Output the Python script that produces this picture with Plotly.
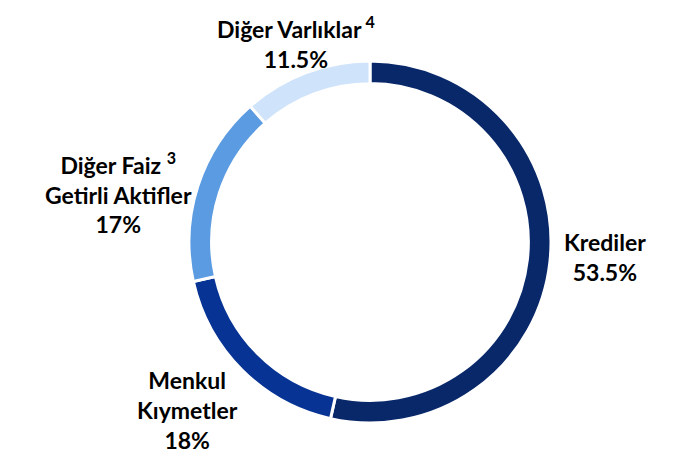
import plotly.graph_objects as go

# slice data, clockwise from 12 o'clock
labels = ["Krediler", "Menkul Kıymetler", "Diğer Faiz Getirli Aktifler", "Diğer Varlıklar"]
values = [53.5, 18, 17, 11.5]
colors = ["#08286A", "#073494", "#5B9BE1", "#CFE3FB"]

# annotation texts (as drawn on the original slide)
label_texts = [
    "<b>Krediler</b><br><b>53.5%</b>",
    "<b>Menkul</b><br><b>Kıymetler</b><br><b>18%</b>",
    "<b>Diğer Faiz <sup>3</sup></b><br><b>Getirli Aktifler</b><br><b>17%</b>",
    "<b>Diğer Varlıklar<sup> 4</sup></b><br><b>11.5%</b>",
]
label_pos = [(597, 249), (179, 402), (110, 185), (288, 35)]

W, H = 674, 455
cx, cy, r = 362, 234, 181

fig = go.Figure(go.Pie(
    labels=labels,
    values=values,
    sort=False,
    direction="clockwise",
    rotation=0,
    hole=0.875,
    marker=dict(colors=colors, line=dict(color="white", width=3)),
    textinfo="none",
    hoverinfo="label+percent",
    showlegend=False,
    domain=dict(x=[(cx - r) / W, (cx + r) / W], y=[(H - cy - r) / H, (H - cy + r) / H]),
))

for txt, (x, y) in zip(label_texts, label_pos):
    fig.add_annotation(
        text=txt, x=x / W, y=1 - y / H, xref="paper", yref="paper",
        showarrow=False, xanchor="center", yanchor="middle", align="center",
        font=dict(family="Lato", size=23, color="#000000"),
    )

# faint grey strip along the bottom edge
fig.add_shape(type="rect", xref="paper", yref="paper", x0=0, x1=1, y0=0, y1=8 / H,
              fillcolor="#F3F3F3", line_width=0, layer="below")

fig.update_layout(
    width=W, height=H,
    margin=dict(l=0, r=0, t=0, b=0),
    paper_bgcolor="white", plot_bgcolor="white",
    font=dict(family="Lato"),
)

fig.write_html("out.html")
